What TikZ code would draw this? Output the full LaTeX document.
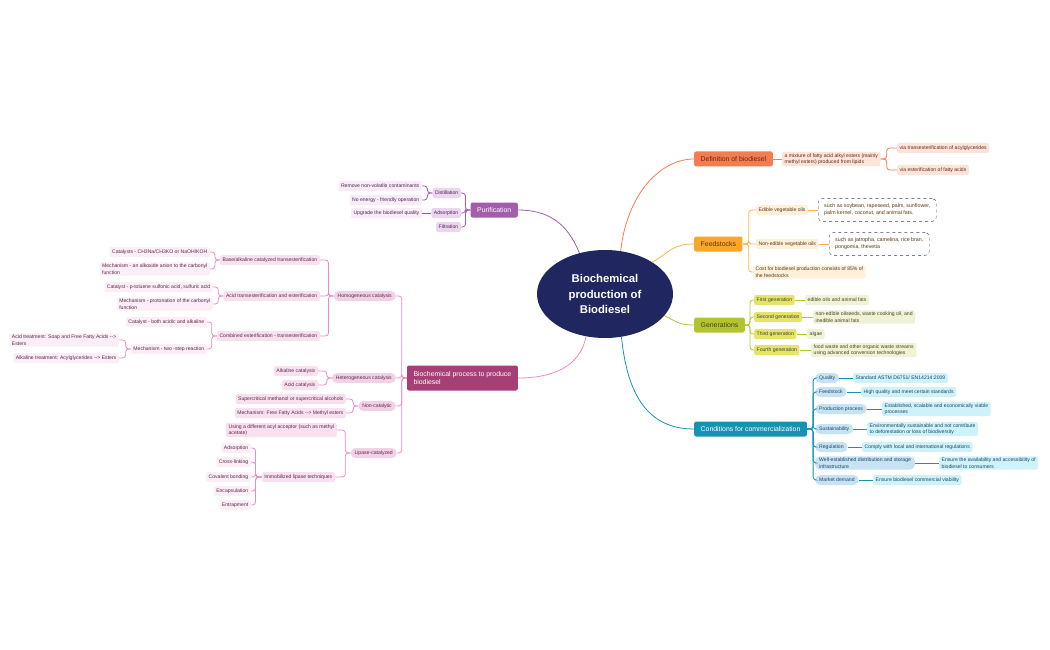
\documentclass[tikz,border=0pt]{standalone}
\usepackage{fontspec}
\setmainfont{Liberation Sans}
\usetikzlibrary{shapes.geometric}
\definecolor{hubc}{HTML}{1F2660}
\definecolor{defc}{HTML}{F47C4E}
\definecolor{defl}{HTML}{FDE3D8}
\definecolor{deft}{HTML}{5E2A1C}
\definecolor{feedc}{HTML}{F9A62B}
\definecolor{feedl}{HTML}{FEF0DA}
\definecolor{feedt}{HTML}{5A3A12}
\definecolor{dashc}{HTML}{3B3B6E}
\definecolor{genc}{HTML}{B3C52E}
\definecolor{genl}{HTML}{E4E36C}
\definecolor{genx}{HTML}{F0F2D8}
\definecolor{gent}{HTML}{44441A}
\definecolor{condc}{HTML}{1593B2}
\definecolor{condl}{HTML}{C6E2F3}
\definecolor{condx}{HTML}{CDF2FA}
\definecolor{condt}{HTML}{1D4663}
\definecolor{purc}{HTML}{A25EAB}
\definecolor{purl}{HTML}{ECD5EF}
\definecolor{purx}{HTML}{F7ECF8}
\definecolor{purt}{HTML}{4A2A4E}
\definecolor{proc}{HTML}{A63F75}
\definecolor{prol}{HTML}{F2D0E6}
\definecolor{prox}{HTML}{F8E0EE}
\definecolor{proy}{HTML}{FCEEF6}
\definecolor{prot}{HTML}{5A2848}
\definecolor{prolin}{HTML}{EC8AC5}
\tikzset{
  hub/.style={ellipse, fill=hubc, text=white, minimum width=136pt, minimum height=88pt,
    align=center, font=\fontsize{11.3}{15.5}\selectfont\bfseries},
  mainbox/.style={rounded corners=2pt, inner xsep=6.5pt, minimum height=15pt,
    font=\fontsize{6.9}{8.7}\selectfont, align=left},
  leaf/.style={rounded corners=2pt, inner xsep=2.5pt, inner ysep=1.5pt, minimum height=10pt,
    font=\fontsize{5.1}{6.6}\selectfont, align=left},
  pill/.style={leaf, rounded corners=5pt, inner xsep=4pt},
  dashbox/.style={leaf, draw=dashc, dashed, fill=white, rounded corners=4pt, inner xsep=6pt, inner ysep=5.5pt, font=\fontsize{5.3}{6.8}\selectfont},
  d1/.style={leaf, fill=defl, text=deft},
  f1/.style={leaf, fill=feedl, text=feedt},
  g1/.style={leaf, fill=genl, text=gent},
  g2/.style={leaf, fill=genx, text=gent},
  c1/.style={pill, fill=condl, text=condt},
  c2/.style={leaf, fill=condx, text=condt},
  p1/.style={leaf, fill=purl, text=purt},
  p2/.style={leaf, fill=purx, text=purt},
  b1/.style={pill, fill=prol, text=prot},
  b2/.style={leaf, fill=prox, text=prot},
  b3/.style={leaf, fill=proy, text=prot},
  dline/.style={draw=defc, line width=0.8pt, rounded corners=3pt},
  fline/.style={draw=feedc!85, line width=0.8pt, rounded corners=3pt},
  gline/.style={draw=genc, line width=0.8pt, rounded corners=3pt},
  cline/.style={draw=condc, line width=0.8pt, rounded corners=3pt},
  pline/.style={draw=purc, line width=0.8pt, rounded corners=3pt},
  bline/.style={draw=prolin, line width=0.8pt, rounded corners=3pt},
}
\begin{document}
\begin{tikzpicture}[x=1pt,y=-1pt]
\useasboundingbox (0,0) rectangle (1050,650);
\node[hub] (hub) at (605,294) {Biochemical\\production of\\Biodiesel};

% definition
\node[mainbox,fill=defc,text=deft,anchor=west] (def) at (694,159) {Definition of biodiesel};
\node[d1,anchor=west] (mix) at (782,159) {a mixture of fatty acid alkyl esters (mainly\\methyl esters) produced from lipids};
\node[d1,anchor=west] (via1) at (897,148) {via transesterification of acylglycerides};
\node[d1,anchor=west] (via2) at (897,170) {via esterification of fatty acids};
\draw[dline] (hub.70) .. controls +(6,-55) and +(-35,0) .. (def.west);
\draw[dline] (def.east) -- (mix.west);
\foreach \n in {via1,via2} \draw[dline] (mix.east) -- ++(6,0) |- (\n.west);

% feedstocks
\node[mainbox,fill=feedc,text=feedt,anchor=west] (feed) at (694,244) {Feedstocks};
\node[f1,anchor=west] (edible) at (756,210) {Edible vegetable oils};
\node[f1,anchor=west] (nonedible) at (756,244) {Non-edible vegetable oils};
\node[f1,anchor=west] (cost) at (753,272) {Cost for biodiesel production consists of 85\% of\\the feedstocks};
\node[dashbox,text=feedt,anchor=west] (edx) at (818,210) {such as soybean, rapeseed, palm, sunflower,\\palm kernel, coconut, and animal fats.};
\node[dashbox,text=feedt,anchor=west] (nonx) at (829,244) {such as jatropha, camelina, rice bran,\\pongomia, thevetia};
\draw[fline] (hub.34) .. controls +(18,-10) and +(-22,0) .. (feed.west);
\foreach \n in {edible,nonedible,cost} \draw[fline] (feed.east) -- ++(6,0) |- (\n.west);
\draw[fline] (edible.east) -- (edx.west);
\draw[fline] (nonedible.east) -- (nonx.west);

% generations
\node[mainbox,fill=genc,text=gent,anchor=west] (gen) at (694,325) {Generations};
\node[g1,anchor=west] (gone) at (754,300) {First generation};
\node[g1,anchor=west] (gtwo) at (754,317) {Second generation};
\node[g1,anchor=west] (gthree) at (754,334) {Third generation};
\node[g1,anchor=west] (gfour) at (754,350) {Fourth generation};
\node[g2,anchor=west] (gonex) at (805,300) {edible oils and animal fats};
\node[g2,anchor=west] (gtwox) at (813,317) {non-edible oilseeds, waste cooking oil, and\\inedible animal fats};
\node[g2,anchor=west] (gthreex) at (807,334) {algae};
\node[g2,anchor=west] (gfourx) at (811,350) {food waste and other organic waste streams\\using advanced conversion technologies};
\draw[gline] (hub.-20) .. controls +(12,6) and +(-15,0) .. (gen.west);
\foreach \n in {gone,gtwo,gthree,gfour} \draw[gline] (gen.east) -- ++(5,0) |- (\n.west);
\foreach \n in {gone,gtwo,gthree,gfour} \draw[gline] (\n.east) -- (\n x.west);

% conditions
\node[mainbox,fill=condc,text=white,anchor=west] (cond) at (694,429) {Conditions for commercialization};
\node[c1,anchor=west] (qual) at (815,378) {Quality};
\node[c1,anchor=west] (fstock) at (815,392) {Feedstock};
\node[c1,anchor=west] (prod) at (815,409) {Production process};
\node[c1,anchor=west] (sust) at (815,429) {Sustainability};
\node[c1,anchor=west] (reg) at (815,447) {Regulation};
\node[c1,anchor=west] (infra) at (815,463) {Well-established distribution and storage\\infrastructure};
\node[c1,anchor=west] (market) at (815,480) {Market demand};
\node[c2,anchor=west] (qualx) at (853,378) {Standard ASTM D6751/ EN14214:2009};
\node[c2,anchor=west] (fstockx) at (861,392) {High quality and meet certain standards};
\node[c2,anchor=west] (prodx) at (882,409) {Established, scalable and economically viable\\processes};
\node[c2,anchor=west] (sustx) at (867,429) {Environmentally sustainable and not contribute\\to deforestation or loss of biodiversity};
\node[c2,anchor=west] (regx) at (862,447) {Comply with local and international regulations};
\node[c2,anchor=west] (infrax) at (939,463) {Ensure the availability and accessibility of\\biodiesel to consumers};
\node[c2,anchor=west] (marketx) at (873,480) {Ensure biodiesel commercial viability};
\draw[cline] (hub.-69) .. controls +(6,60) and +(-45,0) .. (cond.west);
\foreach \n in {qual,fstock,prod,sust,reg,infra,market} \draw[cline] (cond.east) -- ++(6,0) |- (\n.west);
\foreach \n in {qual,fstock,prod,sust,reg,infra,market} \draw[cline] (\n.east) -- (\n x.west);

% purification
\node[mainbox,fill=purc,text=white,anchor=east] (purif) at (518,210) {Purification};
\node[p1,anchor=east] (distil) at (461,193) {Distillation};
\node[p1,anchor=east] (adsorp) at (461,213) {Adsorption};
\node[p1,anchor=east] (filtr) at (461,227) {Filtration};
\node[p2,anchor=east] (remove) at (422,186) {Remove non-volatile contaminants};
\node[p2,anchor=east] (noenergy) at (422,200) {No energy - friendly operation};
\node[p2,anchor=east] (upgrade) at (422,213) {Upgrade the biodiesel quality};
\draw[pline] (hub.122) .. controls +(-12,-30) and +(30,0) .. (purif.east);
\foreach \n in {distil,adsorp,filtr} \draw[pline] (purif.west) -- ++(-5,0) |- (\n.east);
\foreach \n in {remove,noenergy} \draw[pline] (distil.west) -- ++(-5,0) |- (\n.east);
\draw[pline] (adsorp.west) -- (upgrade.east);

% biochemical process
\node[mainbox,fill=proc,text=white,anchor=east,minimum height=25pt] (process) at (518,378) {Biochemical process to produce\\biodiesel};
\node[b1,anchor=east] (homo) at (396,296) {Homogeneous catalysis};
\node[b1,anchor=east] (hetero) at (396,378) {Heterogeneous catalysis};
\node[b1,anchor=east] (noncat) at (396,406) {Non-catalytic};
\node[b1,anchor=east] (lipase) at (397,453) {Lipase-catalyzed};
\draw[bline] (hub.-114) .. controls +(-6,30) and +(35,0) .. (process.east);
\foreach \n in {homo,hetero,noncat,lipase} \draw[bline] (process.west) -- ++(-5,0) |- (\n.east);

\node[b2,anchor=east] (basecat) at (320,260) {Base/alkaline catalyzed transesterification};
\node[b2,anchor=east] (acidcat) at (320,296) {Acid transesterification and esterification};
\node[b2,anchor=east] (combcat) at (320,336) {Combined esterification - transesterification};
\foreach \n in {basecat,acidcat,combcat} \draw[bline] (homo.west) -- ++(-5,0) |- (\n.east);

\node[b3,anchor=east] (catone) at (210,252) {Catalysts - CH3Na/CH3KO or NaOH/KOH};
\node[b3,anchor=east] (mechone) at (210,269) {Mechanism - an alkoxide anion to the carbonyl\\function};
\node[b3,anchor=east] (cattwo) at (213,287) {Catalyst - p-toluene sulfonic acid, sulfuric acid};
\node[b3,anchor=east] (mechtwo) at (213,304) {Mechanism - protonation of the carbonyl\\function};
\node[b3,anchor=east] (catthree) at (207,322) {Catalyst - both acidic and alkaline};
\node[b3,anchor=east] (mechthree) at (207,349) {Mechanism - two -step reaction};
\node[b3,anchor=east] (acidtr) at (119,340) {Acid treatment: Soap and Free Fatty Acids {-}{-}>\\Esters};
\node[b3,anchor=east] (alktr) at (119,358) {Alkaline treatment: Acylglycerides {-}{-}> Esters};
\foreach \n in {catone,mechone} \draw[bline] (basecat.west) -- ++(-5,0) |- (\n.east);
\foreach \n in {cattwo,mechtwo} \draw[bline] (acidcat.west) -- ++(-5,0) |- (\n.east);
\foreach \n in {catthree,mechthree} \draw[bline] (combcat.west) -- ++(-5,0) |- (\n.east);
\foreach \n in {acidtr,alktr} \draw[bline] (mechthree.west) -- ++(-5,0) |- (\n.east);

\node[b2,anchor=east] (alkcat) at (318,371) {Alkaline catalysis};
\node[b2,anchor=east] (acidc) at (318,385) {Acid catalysis};
\foreach \n in {alkcat,acidc} \draw[bline] (hetero.west) -- ++(-5,0) |- (\n.east);

\node[b2,anchor=east] (supercrit) at (346,399) {Supercritical methanol or supercritical alcohols};
\node[b2,anchor=east] (mechff) at (346,413) {Mechanism: Free Fatty Acids {-}{-}> Methyl esters};
\foreach \n in {supercrit,mechff} \draw[bline] (noncat.west) -- ++(-5,0) |- (\n.east);

\node[b2,anchor=east] (acyl) at (337,430) {Using a different acyl acceptor (such as methyl\\acetate)};
\node[b2,anchor=east] (immob) at (335,477) {Immobilized lipase techniques};
\foreach \n in {acyl,immob} \draw[bline] (lipase.west) -- ++(-5,0) |- (\n.east);

\node[b3,anchor=east] (ads) at (251,448) {Adsorption};
\node[b3,anchor=east] (cross) at (251,462) {Cross-linking};
\node[b3,anchor=east] (cov) at (251,477) {Covalent bonding};
\node[b3,anchor=east] (encap) at (251,491) {Encapsulation};
\node[b3,anchor=east] (entrap) at (251,505) {Entrapment};
\foreach \n in {ads,cross,cov,encap,entrap} \draw[bline] (immob.west) -- ++(-6,0) |- (\n.east);
\end{tikzpicture}
\end{document}
